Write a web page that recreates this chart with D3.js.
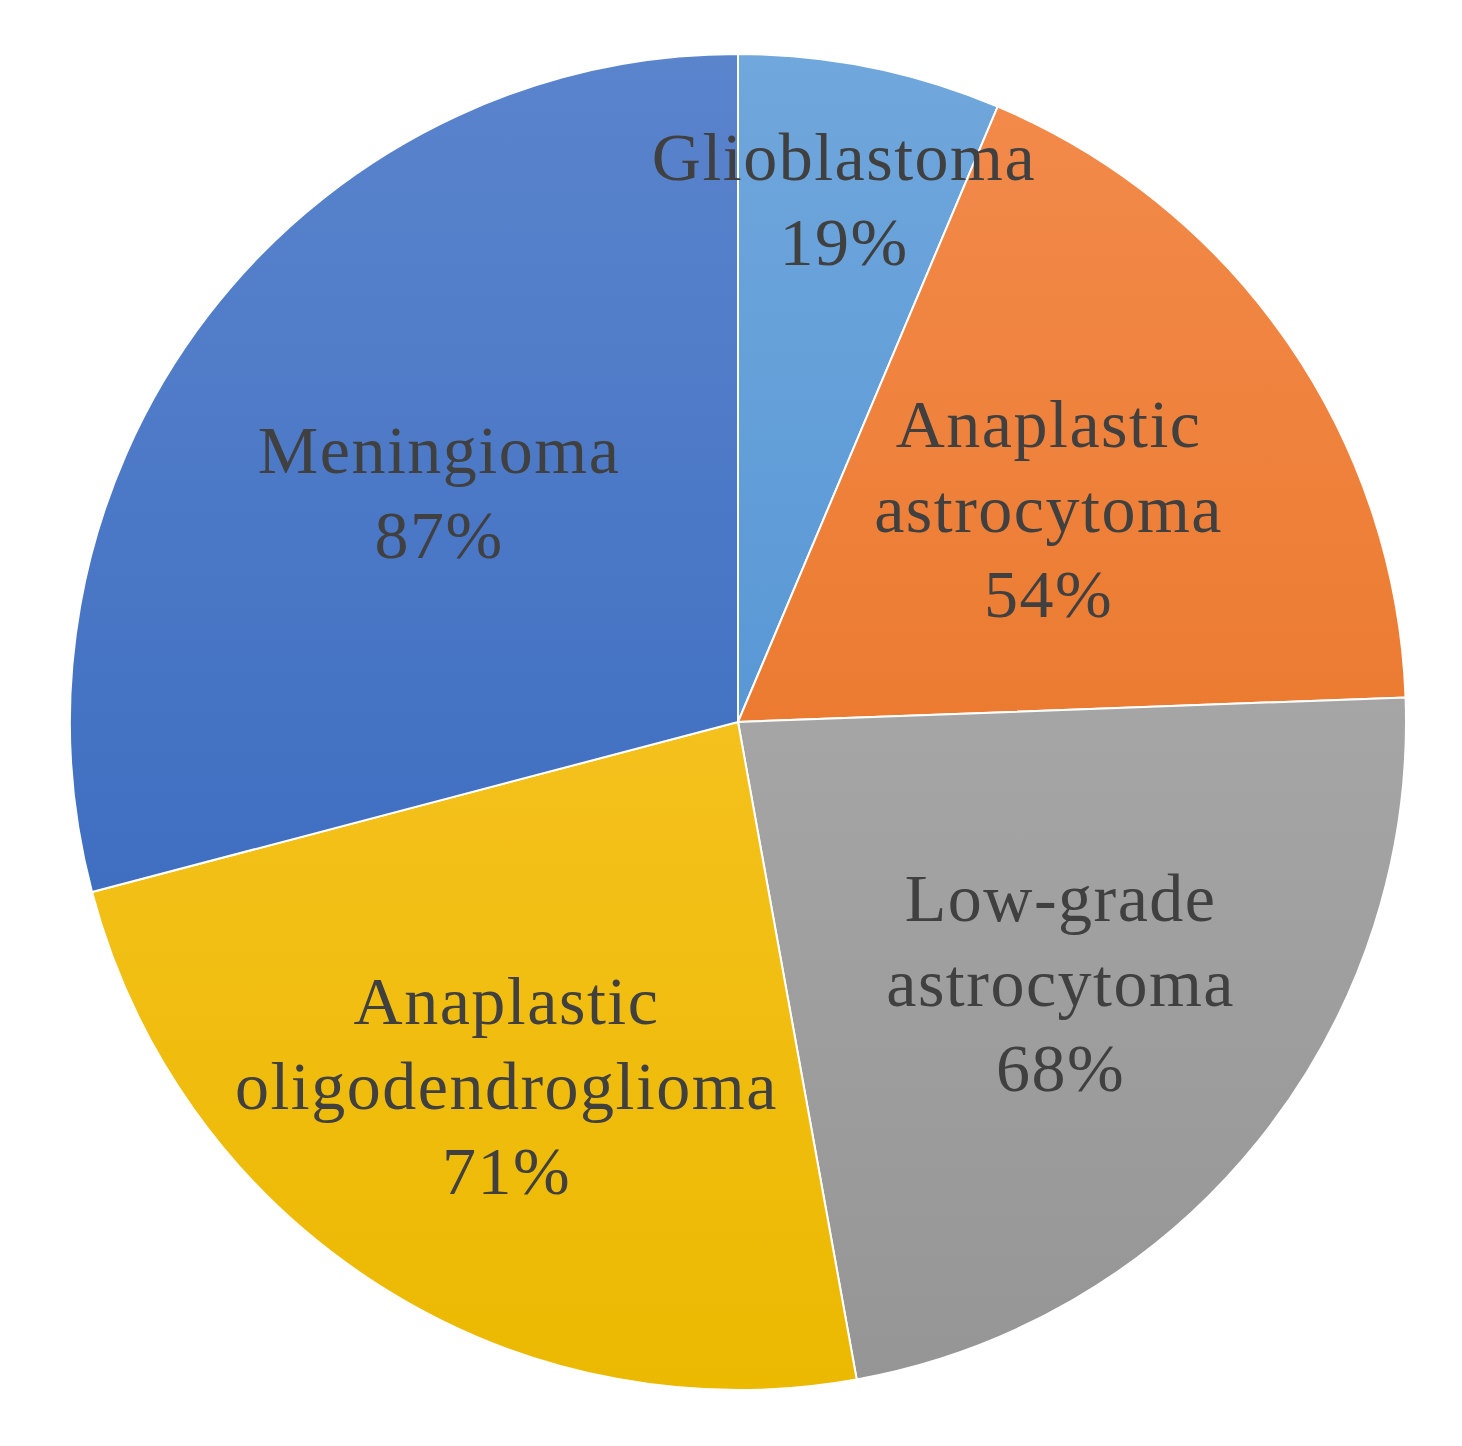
<!DOCTYPE html>
<html>
<head>
<meta charset="utf-8">
<script src="https://d3js.org/d3.v7.min.js"></script>
<style>
	body { margin: 0; background: #fff; }
</style>
</head>
<body>
<div id="chart"></div>
<script>
const width = 1462;
const height = 1446;

// Chart data
const categories = ['Glioblastoma', 'Anaplastic astrocytoma', 'Low-grade astrocytoma', 'Anaplastic oligodendroglioma', 'Meningioma'];
const values = [19, 54, 68, 71, 87];
const labelLines = [
	['Glioblastoma'],
	['Anaplastic', 'astrocytoma'],
	['Low-grade', 'astrocytoma'],
	['Anaplastic', 'oligodendroglioma'],
	['Meningioma'],
];
const colorsTop = ['#70a7dc', '#f38b4c', '#b5b5b5', '#fec93a', '#5a84cc'];
const colorsBottom = ['#4189cf', '#e46b15', '#959595', '#ebb900', '#2f62bb'];
// label distance from centre, as fraction of radius
const labelRadius = [0.80, 0.565, 0.62, 0.645, 0.565];

const cx = 738;
const cy = 722;
const radius = 668;

const svg = d3.select('#chart').append('svg').attr('width', width).attr('height', height);

const defs = svg.append('defs');
categories.forEach((c, i) => {
	const g = defs
		.append('linearGradient')
		.attr('id', 'grad' + i)
		.attr('gradientUnits', 'userSpaceOnUse')
		.attr('x1', 0)
		.attr('y1', -radius)
		.attr('x2', 0)
		.attr('y2', radius);
	g.append('stop').attr('offset', '0%').attr('stop-color', colorsTop[i]);
	g.append('stop').attr('offset', '100%').attr('stop-color', colorsBottom[i]);
});

const pie = d3.pie().sort(null).value((d) => d);
const arcs = pie(values);
const arc = d3.arc().innerRadius(0).outerRadius(radius);

const g = svg.append('g').attr('transform', `translate(${cx},${cy})`);

g.selectAll('path')
	.data(arcs)
	.join('path')
	.attr('d', arc)
	.attr('fill', (d, i) => `url(#grad${i})`)
	.attr('stroke', '#fff')
	.attr('stroke-width', 2);

// Labels: name lines then percentage
const lineH = 85;
g.selectAll('text.label')
	.data(arcs)
	.join('text')
	.attr('class', 'label')
	.attr('text-anchor', 'middle')
	.style('font-family', '"Liberation Serif", "Times New Roman", serif')
	.style('font-size', '68px')
	.style('letter-spacing', '1.5px')
	.attr('fill', '#404040')
	.each(function (d, i) {
		const mid = (d.startAngle + d.endAngle) / 2;
		const r = radius * labelRadius[i];
		const x = Math.sin(mid) * r;
		const y = -Math.cos(mid) * r;
		const lines = labelLines[i].concat([values[i] + '%']);
		const top = y - ((lines.length - 1) * lineH) / 2 + 24;
		const t = d3.select(this);
		lines.forEach((l, k) => {
			t.append('tspan').attr('x', x).attr('y', top + k * lineH).text(l);
		});
	});
</script>
</body>
</html>
